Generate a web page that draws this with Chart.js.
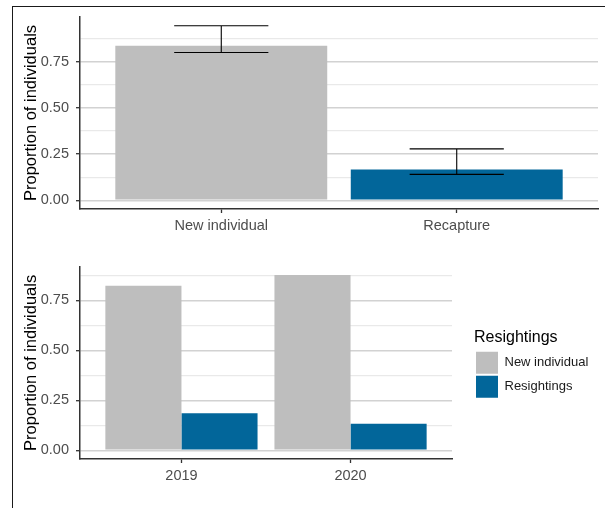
<!DOCTYPE html>
<html>
<head>
<meta charset="utf-8">
<script src="https://cdn.jsdelivr.net/npm/chart.js@4/dist/chart.umd.min.js"></script>
<style>
  html, body { margin: 0; padding: 0; background: #ffffff; width: 605px; height: 508px; overflow: hidden; }
  .wrap { position: absolute; left: 0; }
  #frame { position: absolute; left: 12px; top: 6px; width: 620px; height: 520px;
           border-top: 1.5px solid #1a1a1a; border-left: 1.5px solid #1a1a1a; pointer-events: none; }
</style>
</head>
<body>
<div class="wrap" style="top:0; width:605px; height:245px;"><canvas id="capture"></canvas></div>
<div class="wrap" style="top:245px; width:605px; height:263px;"><canvas id="years"></canvas></div>
<div id="frame"></div>
<script>
// Capture type: share of new individuals vs recaptures, with intervals
const captureCategories = ['New individual', 'Recapture'];
const captureValues = [0.836, 0.167];
const captureLow = [0.800, 0.140];
const captureHigh = [0.945, 0.278];

// Per-year breakdown
const years = ['2019', '2020'];
const newIndividuals = [0.824, 0.877];
const resightings = [0.185, 0.133];

const seriesNames = ['New individual', 'Resightings'];
const GREY = '#bebebe';
const BLUE = '#02669a';

const FONT = "'Liberation Sans', Arial, Helvetica, sans-serif";
Chart.defaults.font.family = FONT;
Chart.defaults.animation = false;

const isMajor = v => Math.abs(v / 0.25 - Math.round(v / 0.25)) < 1e-6;

function yScale(min, max) {
  return {
    type: 'linear',
    min: min, max: max,
    ticks: {
      stepSize: 0.125,
      includeBounds: false,
      autoSkip: false,
      color: '#4d4d4d',
      padding: 7,
      font: { size: 14.5 },
      callback: v => isMajor(v) ? v.toFixed(2) : ''
    },
    grid: {
      color: c => (c.tick && isMajor(c.tick.value)) ? '#d2d2d2' : '#e9e9e9',
      lineWidth: c => (c.tick && isMajor(c.tick.value)) ? 1.4 : 1.2,
      tickColor: c => (c.tick && isMajor(c.tick.value)) ? '#333333' : 'rgba(0,0,0,0)',
      tickLength: 4,
      tickWidth: 1.3
    },
    border: { display: true, color: '#333333', width: 1.5 },
    title: {
      display: true,
      text: 'Proportion of individuals',
      color: '#000000',
      font: { size: 16.5 },
      padding: { top: 22, bottom: 0 }
    },
    afterFit: s => { s.width = 80; }
  };
}

function xScale(labels, height) {
  return {
    type: 'linear',
    min: -0.6, max: labels.length - 0.4,
    offset: false,
    ticks: {
      stepSize: 1,
      includeBounds: false,
      autoSkip: false,
      maxRotation: 0,
      color: '#4d4d4d',
      padding: 4,
      font: { size: 14.5 },
      callback: v => labels[v] !== undefined ? labels[v] : ''
    },
    grid: {
      offset: false,
      drawOnChartArea: false,
      drawTicks: true,
      tickLength: 4,
      tickColor: '#333333',
      tickWidth: 1.3
    },
    border: { display: true, color: '#333333', width: 1.5 },
    afterFit: s => { s.height = height; }
  };
}

// Draws interval whiskers with caps through the chart's own scales
const errorBars = {
  id: 'errorBars',
  afterDatasetsDraw(chart, args, opts) {
    const { ctx, scales: { x, y } } = chart;
    ctx.save();
    ctx.strokeStyle = '#000000';
    ctx.lineWidth = 1.1;
    opts.low.forEach((lo, i) => {
      const hi = opts.high[i];
      const cx = x.getPixelForValue(i);
      const xl = x.getPixelForValue(i - opts.halfWidth);
      const xr = x.getPixelForValue(i + opts.halfWidth);
      const yl = y.getPixelForValue(lo);
      const yh = y.getPixelForValue(hi);
      ctx.beginPath();
      ctx.moveTo(cx, yl); ctx.lineTo(cx, yh);
      ctx.moveTo(xl, yh); ctx.lineTo(xr, yh);
      ctx.moveTo(xl, yl); ctx.lineTo(xr, yl);
      ctx.stroke();
    });
    ctx.restore();
  }
};

new Chart(document.getElementById('capture'), {
  type: 'bar',
  data: {
    datasets: [{
      label: 'Proportion',
      data: captureValues.map((v, i) => ({ x: i, y: v })),
      backgroundColor: [GREY, BLUE],
      borderWidth: 0,
      categoryPercentage: 0.9,
      barPercentage: 1
    }]
  },
  options: {
    responsive: true,
    maintainAspectRatio: false,
    layout: { padding: { top: 17, right: 7, left: 0, bottom: 0 } },
    plugins: {
      legend: { display: false },
      tooltip: { enabled: false },
      errorBars: { low: captureLow, high: captureHigh, halfWidth: 0.2 }
    },
    scales: {
      x: xScale(captureCategories, 36),
      y: yScale(-0.04725, 0.99225)
    }
  },
  plugins: [errorBars]
});

new Chart(document.getElementById('years'), {
  type: 'bar',
  data: {
    datasets: [
      {
        label: seriesNames[0],
        data: newIndividuals.map((v, i) => ({ x: i, y: v })),
        backgroundColor: GREY,
        borderWidth: 0,
        categoryPercentage: 0.9,
        barPercentage: 1
      },
      {
        label: seriesNames[1],
        data: resightings.map((v, i) => ({ x: i, y: v })),
        backgroundColor: BLUE,
        borderWidth: 0,
        categoryPercentage: 0.9,
        barPercentage: 1
      }
    ]
  },
  options: {
    responsive: true,
    maintainAspectRatio: false,
    layout: { padding: { top: 21.7, right: 11, left: 0, bottom: 0 } },
    plugins: {
      tooltip: { enabled: false },
      legend: {
        display: true,
        position: 'right',
        align: 'center',
        fullSize: false,
        maxWidth: 120,
        title: {
          display: true,
          text: 'Resightings',
          position: 'start',
          color: '#000000',
          font: { size: 16 },
          padding: { top: 4, bottom: 0.5 }
        },
        labels: {
          boxWidth: 22,
          boxHeight: 22,
          padding: 2,
          color: '#1a1a1a',
          font: { size: 13 }
        }
      }
    },
    scales: {
      x: xScale(years, 49),
      y: yScale(-0.04375, 0.91875),
      // empty spacer column between the panel and the legend
      gap: {
        type: 'linear',
        position: 'right',
        display: true,
        grid: { display: false },
        ticks: { display: false },
        border: { display: false },
        afterFit: s => { s.width = 22; }
      }
    }
  }
});
</script>
</body>
</html>
